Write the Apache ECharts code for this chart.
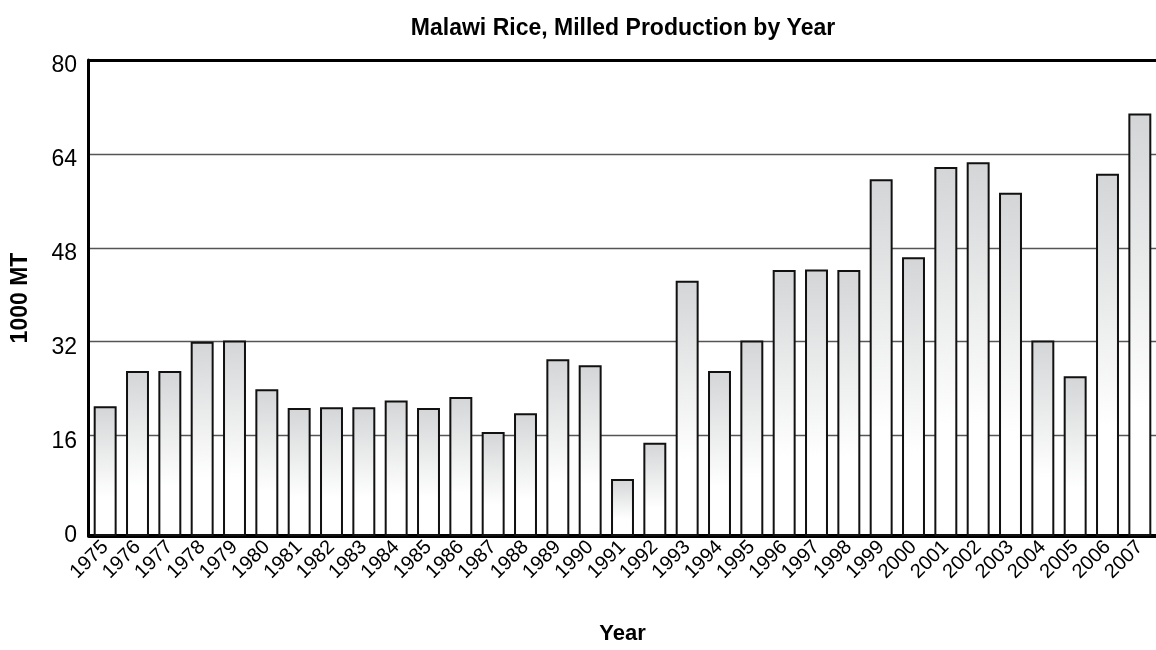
<!DOCTYPE html>
<html>
<head>
<meta charset="utf-8">
<script src="https://cdn.jsdelivr.net/npm/echarts@6/dist/echarts.min.js"></script>
<style>
html,body{margin:0;padding:0;background:#fff;}
#chart{width:1156px;height:650px;}
</style>
</head>
<body>
<div id="chart"></div>
<script>
const years = ['1975','1976','1977','1978','1979','1980','1981','1982','1983','1984','1985','1986','1987','1988','1989','1990','1991','1992','1993','1994','1995','1996','1997','1998','1999','2000','2001','2002','2003','2004','2005','2006','2007'];
const production = [21, 27, 27, 32, 32.2, 23.9, 20.7, 20.85, 20.85, 22, 20.7, 22.6, 16.6, 19.8, 29, 28, 8.6, 14.8, 42.4, 27, 32.2, 44.2, 44.3, 44.2, 59.7, 46.4, 61.75, 62.6, 57.4, 32.2, 26.1, 60.6, 70.9];
const yTicks = [0, 16, 32, 48, 64, 80];
const gridTicks = [16, 32, 48, 64, 80];

const FONT = '"Liberation Sans", Arial, Helvetica, sans-serif';
const chart = echarts.init(document.getElementById('chart'), null, {renderer: 'canvas'});
chart.setOption({
  animation: false,
  backgroundColor: '#ffffff',
  textStyle: {fontFamily: FONT},
  title: {
    text: 'Malawi Rice, Milled Production by Year',
    left: 618,
    textAlign: 'center',
    top: 12,
    textStyle: {fontFamily: FONT, fontSize: 23, fontWeight: 'bold', color: '#000'}
  },
  grid: {left: 89, right: 0, top: 60, bottom: 109, containLabel: false},
  xAxis: [{
    type: 'category',
    data: years,
    boundaryGap: true,
    name: 'Year',
    nameLocation: 'middle',
    nameGap: 87,
    nameTextStyle: {fontFamily: FONT, fontSize: 22, fontWeight: 'bold', color: '#000'},
    axisLine: {show: true, onZero: false, lineStyle: {color: '#000', width: 4}},
    axisTick: {show: false},
    axisLabel: {
      interval: 0,
      rotate: 45,
      margin: 8,
      fontFamily: FONT,
      fontSize: 20,
      color: '#000'
    }
  }, {
    type: 'category',
    data: years,
    position: 'top',
    axisLine: {show: true, onZero: false, lineStyle: {color: '#000', width: 3}},
    axisTick: {show: false},
    axisLabel: {show: false}
  }],
  yAxis: {
    type: 'value',
    min: -1.1,
    max: 80,
    startValue: -1.1,
    offset: 1,
    name: '1000 MT',
    nameLocation: 'middle',
    nameGap: 56,
    nameTextStyle: {fontFamily: FONT, fontSize: 23, fontWeight: 'bold', color: '#000'},
    axisLine: {show: true, onZero: false, lineStyle: {color: '#000', width: 3}},
    axisTick: {show: false, customValues: gridTicks},
    axisLabel: {
      customValues: yTicks,
      margin: 11,
      fontFamily: FONT,
      fontSize: 23,
      color: '#000',
      verticalAlign: 'top',
      lineHeight: 12
    },
    splitLine: {show: true, lineStyle: {color: '#555', width: 1.4}}
  },
  series: [{
    type: 'bar',
    data: production,
    barCategoryGap: '29%',
    itemStyle: {
      color: new echarts.graphic.LinearGradient(0, 0, 0, 1, [
        {offset: 0, color: '#d4d5d7'},
        {offset: 0.35, color: '#e9eaea'},
        {offset: 0.7, color: '#ffffff'},
        {offset: 1, color: '#ffffff'}
      ]),
      borderColor: '#111',
      borderWidth: 2
    }
  }]
});
</script>
</body>
</html>
